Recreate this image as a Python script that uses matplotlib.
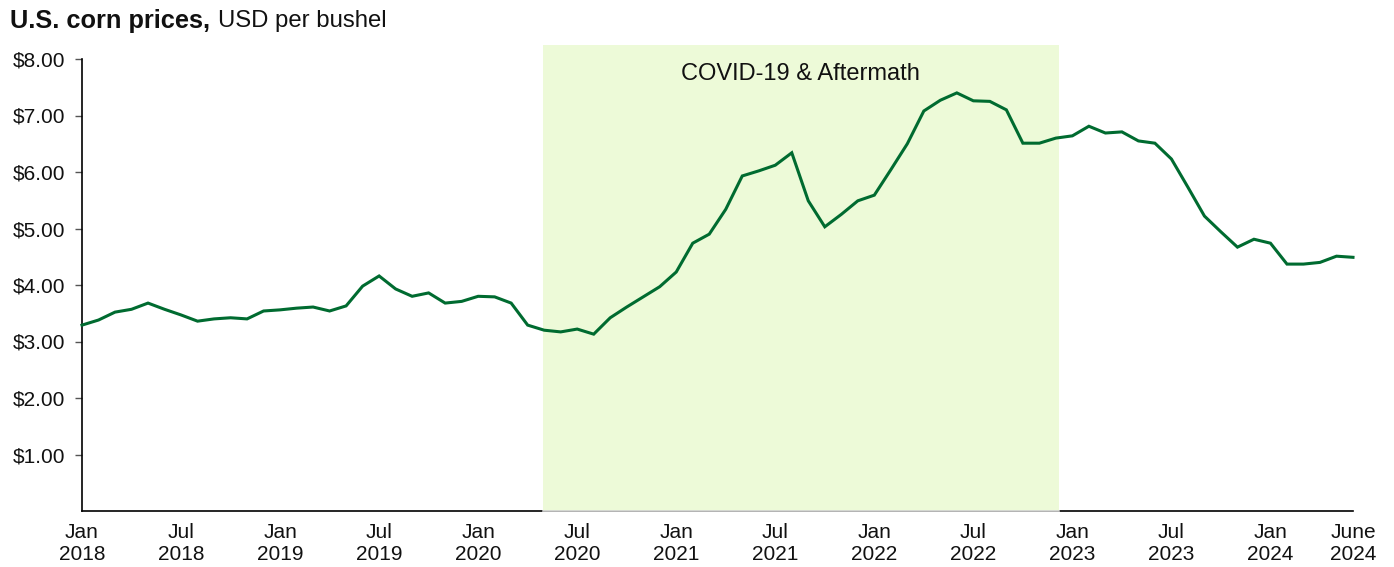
import matplotlib
matplotlib.use("Agg")
import matplotlib.pyplot as plt
from matplotlib.patches import Rectangle

plt.rcParams['font.family'] = ['Liberation Sans', 'DejaVu Sans']

# Monthly U.S. corn prices, Jan 2018 - June 2024 (USD per bushel)
prices = [
    3.29, 3.38, 3.52, 3.57, 3.68, 3.57, 3.47, 3.36, 3.40, 3.42, 3.40, 3.54,   # 2018
    3.56, 3.59, 3.61, 3.54, 3.63, 3.98, 4.16, 3.93, 3.80, 3.86, 3.68, 3.71,   # 2019
    3.80, 3.79, 3.68, 3.29, 3.20, 3.17, 3.22, 3.13, 3.42, 3.61, 3.79, 3.97,   # 2020
    4.23, 4.74, 4.90, 5.34, 5.93, 6.02, 6.12, 6.34, 5.49, 5.03, 5.25, 5.49,   # 2021
    5.59, 6.04, 6.50, 7.08, 7.27, 7.40, 7.26, 7.25, 7.10, 6.51, 6.51, 6.60,   # 2022
    6.64, 6.81, 6.69, 6.71, 6.55, 6.51, 6.23, 5.73, 5.22, 4.94, 4.67, 4.81,   # 2023
    4.74, 4.37, 4.37, 4.40, 4.51, 4.49,                                       # 2024
]
tick_months = [0, 6, 12, 18, 24, 30, 36, 42, 48, 54, 60, 66, 72, 77]
tick_labels = ["Jan\n2018", "Jul\n2018", "Jan\n2019", "Jul\n2019", "Jan\n2020",
               "Jul\n2020", "Jan\n2021", "Jul\n2021", "Jan\n2022", "Jul\n2022",
               "Jan\n2023", "Jul\n2023", "Jan\n2024", "June\n2024"]
y_ticks = [1, 2, 3, 4, 5, 6, 7, 8]
y_labels = ["$1.00", "$2.00", "$3.00", "$4.00", "$5.00", "$6.00", "$7.00", "$8.00"]
shade_start, shade_end = 27.9, 59.2
shade_label = "COVID-19 & Aftermath"

W, H = 1394, 567
fig = plt.figure(figsize=(W / 100, H / 100), dpi=100)
ax = fig.add_axes([82 / W, 1 - 511 / H, (1353 - 82) / W, (511 - 59) / H])

months = list(range(len(prices)))
ax.set_xlim(0, 77)
ax.set_ylim(0, 8)

rect = Rectangle((shade_start, 0), shade_end - shade_start, 8.25,
                 facecolor='#EDFAD8', edgecolor='none', zorder=2.6, clip_on=False)
ax.add_patch(rect)
ax.plot([shade_start, shade_end], [0, 0], color='#D0D0D0', lw=1.2, zorder=2.7, clip_on=False)

ax.plot(months, prices, color='#006B30', lw=2.2, zorder=4, clip_on=False,
        solid_joinstyle='miter')

ax.text((shade_start + shade_end) / 2, 7.73, shade_label, ha='center', va='center',
        fontsize=17, color='#111111', zorder=5)

for s in ['top', 'right']:
    ax.spines[s].set_visible(False)
for s in ['left', 'bottom']:
    ax.spines[s].set_color('black')
    ax.spines[s].set_linewidth(1.2)

ax.set_yticks(y_ticks)
ax.set_yticklabels(y_labels)
ax.tick_params(axis='y', length=5, width=1, color='#555555', labelsize=15, pad=7,
               labelcolor='#111111')
ax.set_xticks(tick_months)
ax.set_xticklabels(tick_labels)
ax.tick_params(axis='x', length=0, labelsize=15, pad=9, labelcolor='#111111')
for lab in ax.get_xticklabels():
    lab.set_linespacing(1.2)

# Title: bold part + regular part
t1 = fig.text(10 / W, 1 - 21 / H, "U.S. corn prices,", fontsize=18.3, fontweight='bold',
              ha='left', va='center', color='#111111')
fig.canvas.draw()
bb = t1.get_window_extent(renderer=fig.canvas.get_renderer())
fig.text((bb.x1 + 8) / W, 1 - 21 / H, "USD per bushel", fontsize=17.2,
         ha='left', va='center', color='#111111')

fig.savefig("out.png", dpi=100)
